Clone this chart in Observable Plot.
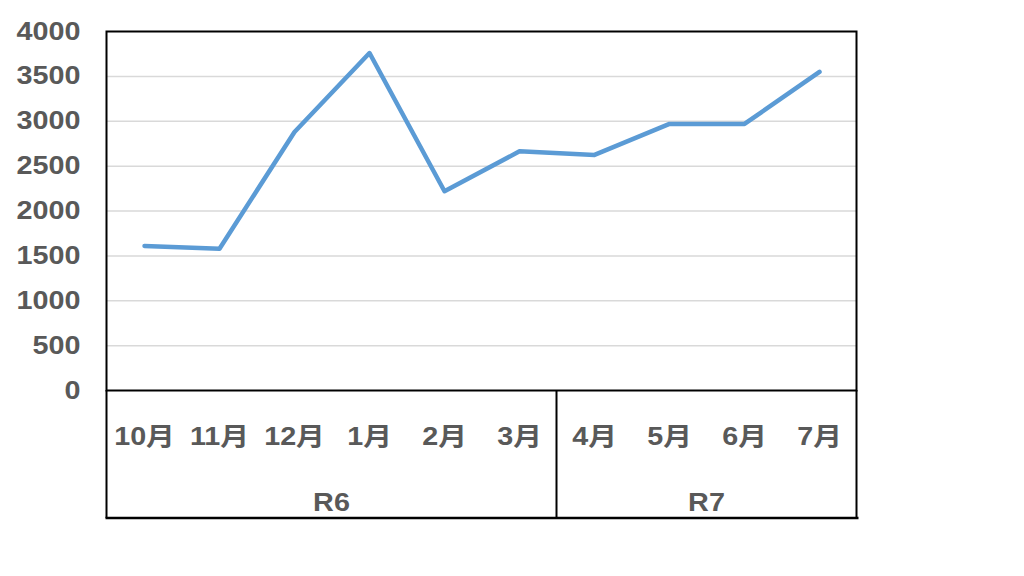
<!DOCTYPE html>
<html><head><meta charset="utf-8">
<script src="https://cdn.jsdelivr.net/npm/d3@7"></script>
<script src="https://cdn.jsdelivr.net/npm/@observablehq/plot@0.6"></script>
<style>body{margin:0;background:#fff}</style>
</head><body><div id="chart"></div>
<script>
const months = ["10月","11月","12月","1月","2月","3月","4月","5月","6月","7月"];
const values = [1610,1580,2880,3760,2220,2665,2625,2970,2970,3550];
const groups = ["R6","R6","R6","R6","R6","R6","R7","R7","R7","R7"];
const groupNames = ["R6","R7"];
const yTicks = [0,500,1000,1500,2000,2500,3000,3500,4000];

const data = months.map((m,i)=>({month:m, value:values[i], group:groups[i]}));
const font = "'Liberation Sans', Arial, 'Noto Sans CJK JP', sans-serif";
const gray = "#595959";

const plot = Plot.plot({
  width:1024, height:576,
  marginLeft:106, marginRight:168, marginTop:31, marginBottom:186,
  style:{fontFamily:font, background:"#fff"},
  x:{type:"point", domain:months, padding:0.5, axis:null},
  y:{domain:[0,4000], axis:null},
  marks:[
    Plot.ruleY(yTicks.filter(t=>t>0&&t<4000), {stroke:"#d9d9d9", strokeWidth:1.5}),
    Plot.axisY(yTicks, {tickSize:0, tickPadding:26, fontSize:25, fontWeight:"bold", fill:gray, label:null, tickFormat:d=>String(d)}),
    Plot.axisX(months, {tickSize:0, tickPadding:37, fontSize:25, fontWeight:"bold", fill:gray, label:null}),
    Plot.line(data, {x:"month", y:"value", stroke:"#5b9bd5", strokeWidth:4.5}),
    Plot.frame({stroke:"#000", strokeWidth:2})
  ]
});
document.getElementById("chart").append(plot);

// group table below the plot, positioned through the plot's x scale
const xs = plot.scale("x");
const step = xs.step;
const y0 = 390, y1 = 518;
const svg = d3.select(plot);
const g = svg.append("g");
const bounds = groupNames.map(gn => {
  const ms = months.filter((m,i)=>groups[i]===gn);
  return {name:gn, left: xs.apply(ms[0]) - step/2, right: xs.apply(ms[ms.length-1]) + step/2};
});
const edges = [bounds[0].left, ...bounds.map(b=>b.right)];
edges.forEach(x => g.append("line").attr("x1",x).attr("x2",x).attr("y1",y0).attr("y2",y1).attr("stroke","#000").attr("stroke-width",2));
g.append("line").attr("x1",edges[0]-1).attr("x2",edges[edges.length-1]+2).attr("y1",y1).attr("y2",y1).attr("stroke","#000").attr("stroke-width",2.5);
bounds.forEach(b => g.append("text").attr("x",(b.left+b.right)/2).attr("y",502).attr("dy","0.35em")
  .attr("text-anchor","middle").attr("font-size",25).attr("font-weight","bold").attr("fill",gray).attr("font-family",font).text(b.name));

// the reference typeface is slightly wider; stretch glyphs horizontally
svg.selectAll("text").each(function(){
  const len = this.getComputedTextLength();
  if (len > 0) { this.setAttribute("textLength", (len*1.15).toFixed(1)); this.setAttribute("lengthAdjust","spacingAndGlyphs"); }
});
</script>
</body></html>
